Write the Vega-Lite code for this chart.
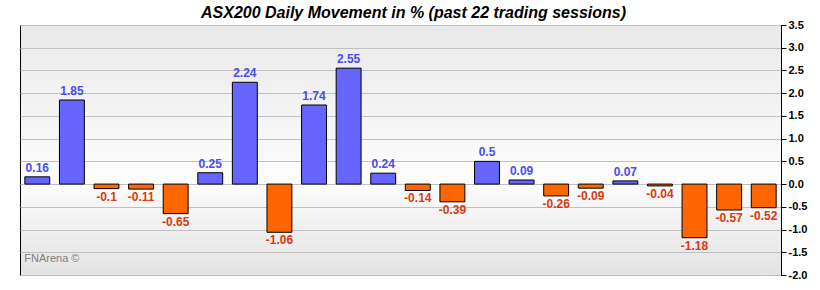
{
  "$schema": "https://vega.github.io/schema/vega-lite/v6.json",
  "width": 761,
  "height": 250,
  "autosize": {"type": "none"},
  "padding": {"left": 20, "top": 25, "right": 39, "bottom": 15},
  "background": "white",
  "title": {
    "text": "ASX200 Daily Movement in % (past 22 trading sessions)",
    "font": "Liberation Sans",
    "fontSize": 16,
    "fontStyle": "italic",
    "fontWeight": "bold",
    "color": "#000000",
    "anchor": "middle",
    "offset": -2,
    "dx": 13
  },
  "config": {
    "view": {
      "stroke": "#000000",
      "strokeWidth": 1,
      "fill": {
        "gradient": "linear",
        "x1": 0, "y1": 0, "x2": 0, "y2": 1,
        "stops": [
          {"offset": 0, "color": "#e9e9e9"},
          {"offset": 0.62, "color": "#fdfdfd"},
          {"offset": 1, "color": "#e3e3e3"}
        ]
      }
    },
    "font": "Liberation Sans"
  },
  "data": {
    "values": [
      {"i": 1, "v": 0.16}, {"i": 2, "v": 1.85}, {"i": 3, "v": -0.1}, {"i": 4, "v": -0.11},
      {"i": 5, "v": -0.65}, {"i": 6, "v": 0.25}, {"i": 7, "v": 2.24}, {"i": 8, "v": -1.06},
      {"i": 9, "v": 1.74}, {"i": 10, "v": 2.55}, {"i": 11, "v": 0.24}, {"i": 12, "v": -0.14},
      {"i": 13, "v": -0.39}, {"i": 14, "v": 0.5}, {"i": 15, "v": 0.09}, {"i": 16, "v": -0.26},
      {"i": 17, "v": -0.09}, {"i": 18, "v": 0.07}, {"i": 19, "v": -0.04}, {"i": 20, "v": -1.18},
      {"i": 21, "v": -0.57}, {"i": 22, "v": -0.52}
    ]
  },
  "encoding": {
    "x": {
      "field": "i", "type": "ordinal", "axis": null,
      "scale": {"paddingInner": 0.28, "paddingOuter": 0.14}
    },
    "y": {
      "field": "v", "type": "quantitative",
      "scale": {"domain": [-2, 3.5], "nice": false, "zero": false},
      "axis": {
        "orient": "right", "title": null,
        "values": [-2, -1.5, -1, -0.5, 0, 0.5, 1, 1.5, 2, 2.5, 3, 3.5],
        "labelExpr": "datum.value < 0 ? '-' + format(-datum.value, '.1f') : format(datum.value, '.1f')",
        "labelOverlap": false,
        "labelFont": "Liberation Sans", "labelFontSize": 11, "labelFontWeight": "bold",
        "labelColor": "#000000", "labelPadding": 2,
        "domainColor": "#000000", "tickColor": "#000000", "tickSize": 5,
        "grid": true, "gridColor": "#c0c0c0", "gridWidth": 1
      }
    }
  },
  "layer": [
    {
      "mark": {"type": "bar", "stroke": "#000000", "strokeWidth": 1},
      "encoding": {
        "y2": {"datum": 0},
        "color": {
          "condition": {"test": "datum.v >= 0", "value": "#6666ff"},
          "value": "#ff6600"
        }
      }
    },
    {
      "transform": [{"filter": "datum.v >= 0"}],
      "mark": {"type": "text", "baseline": "bottom", "dy": -2, "fontSize": 12, "fontWeight": "bold", "color": "#4c4cf0"},
      "encoding": {
        "text": {"field": "v", "type": "nominal"}
      }
    },
    {
      "transform": [{"filter": "datum.v < 0"}],
      "mark": {"type": "text", "baseline": "top", "dy": 3, "fontSize": 12, "fontWeight": "bold", "color": "#d83a10"},
      "encoding": {
        "text": {"field": "v", "type": "nominal"}
      }
    },
    {
      "data": {"values": [{"i": 1, "label": "FNArena ©", "v": -1.65}]},
      "mark": {"type": "text", "align": "left", "baseline": "middle", "dx": -13, "fontSize": 11, "color": "#808080"},
      "encoding": {
        "text": {"field": "label"}
      }
    }
  ]
}
